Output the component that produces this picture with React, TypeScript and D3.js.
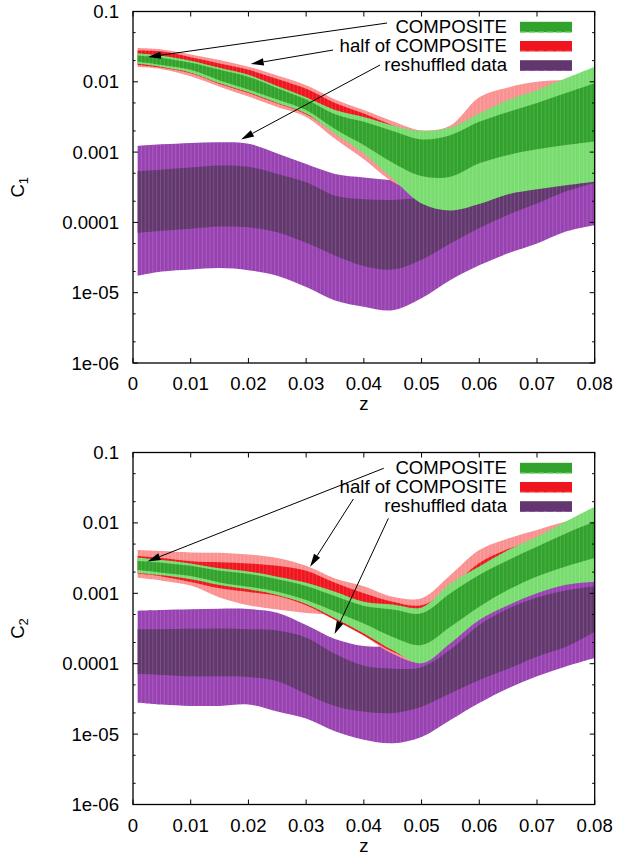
import React from "react";
import * as d3 from "d3";

// ---------- data (log10 of C) ----------
const zGrid = [0.0008, 0.005, 0.01, 0.015, 0.02, 0.025, 0.03, 0.035, 0.04, 0.045, 0.05, 0.055, 0.06, 0.065, 0.07, 0.075, 0.08];

// C1 panel
const c1CompOuterHi = [-1.595, -1.63, -1.70, -1.80, -1.90, -2.06, -2.22, -2.40, -2.50, -2.62, -2.70, -2.65, -2.45, -2.26, -2.12, -1.95, -1.785];
const c1CompInnerHi = [-1.625, -1.66, -1.73, -1.83, -1.93, -2.09, -2.25, -2.46, -2.57, -2.70, -2.82, -2.76, -2.57, -2.43, -2.30, -2.16, -2.02];
const c1CompInnerLo = [-1.715, -1.76, -1.83, -1.98, -2.11, -2.25, -2.40, -2.67, -2.90, -3.15, -3.34, -3.35, -3.16, -3.04, -2.96, -2.90, -2.85];
const c1CompOuterLo = [-1.745, -1.79, -1.87, -2.02, -2.15, -2.30, -2.45, -2.74, -3.02, -3.38, -3.73, -3.83, -3.74, -3.60, -3.53, -3.47, -3.42];

const c1HalfOuterHi = [-1.52, -1.54, -1.61, -1.69, -1.785, -1.91, -2.05, -2.25, -2.40, -2.56, -2.69, -2.62, -2.22, -2.08, -2.00, -1.97, -1.95];
const c1HalfInnerHi = [-1.555, -1.57, -1.65, -1.74, -1.83, -1.96, -2.10, -2.30, -2.45, -2.62, -2.78, -2.72, -2.50, -2.38, -2.28, -2.18, -2.08];
const c1HalfInnerLo = [-1.76, -1.80, -1.88, -2.03, -2.16, -2.31, -2.46, -2.72, -2.98, -3.22, -3.40, -3.35, -3.05, -2.95, -2.88, -2.82, -2.76];
const c1HalfOuterLo = [-1.79, -1.82, -1.92, -2.07, -2.21, -2.36, -2.50, -2.81, -3.10, -3.42, -3.58, -3.55, -3.40, -3.30, -3.22, -3.16, -3.10];

const c1ReshOuterHi = [-2.913, -2.89, -2.87, -2.86, -2.88, -3.02, -3.17, -3.31, -3.36, -3.40, -3.45, -3.35, -3.10, -2.90, -2.70, -2.50, -2.35];
const c1ReshInnerHi = [-3.27, -3.25, -3.22, -3.19, -3.21, -3.31, -3.43, -3.62, -3.67, -3.68, -3.65, -3.60, -3.50, -3.30, -3.10, -2.95, -2.80];
const c1ReshInnerLo = [-4.15, -4.12, -4.09, -4.06, -4.07, -4.14, -4.29, -4.47, -4.62, -4.67, -4.53, -4.30, -4.08, -3.89, -3.73, -3.56, -3.44];
const c1ReshOuterLo = [-4.76, -4.70, -4.67, -4.65, -4.68, -4.76, -4.92, -5.11, -5.20, -5.25, -5.08, -4.82, -4.61, -4.44, -4.30, -4.13, -4.04];

// C2 panel
const c2CompOuterHi = [-2.49, -2.527, -2.575, -2.645, -2.69, -2.764, -2.849, -2.977, -3.12, -3.16, -3.20, -2.86, -2.62, -2.385, -2.195, -1.98, -1.77];
const c2CompInnerHi = [-2.54, -2.565, -2.61, -2.68, -2.725, -2.80, -2.896, -3.04, -3.18, -3.23, -3.285, -3.0, -2.74, -2.53, -2.34, -2.15, -1.98];
const c2CompInnerLo = [-2.67, -2.707, -2.755, -2.845, -2.906, -2.977, -3.095, -3.26, -3.43, -3.62, -3.735, -3.475, -3.19, -2.95, -2.76, -2.62, -2.50];
const c2CompOuterLo = [-2.71, -2.745, -2.80, -2.882, -2.944, -3.024, -3.152, -3.355, -3.57, -3.81, -3.995, -3.71, -3.38, -3.17, -3.0, -2.88, -2.835];

const c2HalfOuterHi = [-2.385, -2.40, -2.42, -2.425, -2.45, -2.50, -2.61, -2.79, -2.90, -3.05, -3.07, -2.74, -2.385, -2.22, -2.10, -1.98, -1.90];
const c2HalfInnerHi = [-2.47, -2.50, -2.545, -2.56, -2.575, -2.61, -2.68, -2.85, -3.00, -3.12, -3.17, -2.92, -2.57, -2.37, -2.26, -2.14, -2.05];
const c2HalfInnerLo = [-2.72, -2.76, -2.84, -2.93, -2.98, -3.04, -3.17, -3.38, -3.60, -3.83, -3.95, -3.55, -3.25, -3.05, -2.90, -2.78, -2.70];
const c2HalfOuterLo = [-2.78, -2.82, -2.89, -3.06, -3.17, -3.23, -3.28, -3.33, -3.60, -3.86, -3.98, -3.65, -3.35, -3.15, -2.98, -2.87, -2.80];

const c2ReshOuterHi = [-3.247, -3.237, -3.228, -3.218, -3.223, -3.275, -3.45, -3.65, -3.75, -3.76, -3.80, -3.60, -3.35, -3.13, -2.97, -2.86, -2.80];
const c2ReshInnerHi = [-3.51, -3.51, -3.505, -3.50, -3.51, -3.53, -3.63, -3.86, -4.03, -4.07, -4.05, -3.80, -3.45, -3.22, -3.06, -2.96, -2.90];
const c2ReshInnerLo = [-4.146, -4.16, -4.18, -4.18, -4.19, -4.25, -4.43, -4.60, -4.68, -4.70, -4.61, -4.42, -4.23, -4.07, -3.90, -3.76, -3.545];
const c2ReshOuterLo = [-4.553, -4.58, -4.60, -4.60, -4.58, -4.68, -4.78, -4.96, -5.08, -5.13, -5.04, -4.80, -4.56, -4.35, -4.18, -4.04, -3.92];

const xTickValues = [0, 0.01, 0.02, 0.03, 0.04, 0.05, 0.06, 0.07, 0.08];
const xTickLabels = ["0", "0.01", "0.02", "0.03", "0.04", "0.05", "0.06", "0.07", "0.08"];
const yTickValues = [1e-1, 1e-2, 1e-3, 1e-4, 1e-5, 1e-6];
const yTickLabels = ["0.1", "0.01", "0.001", "0.0001", "1e-05", "1e-06"];
const yMinorMantissas = [2, 5];

const legendLabels = ["COMPOSITE", "half of COMPOSITE", "reshuffled data"];

// arrows: [z, log10 C] from label to band
const c1Arrows = [
  { from: [0.04403, -1.164], to: [0.0026, -1.647] },
  { from: [0.03467, -1.548], to: [0.0204, -1.747] },
  { from: [0.04281, -1.761], to: [0.01872, -2.821] },
];
const c2Arrows = [
  { from: [0.04345, -1.224], to: [0.00251, -2.548] },
  { from: [0.03819, -1.66], to: [0.03068, -2.622] },
  { from: [0.04425, -1.935], to: [0.03493, -3.578] },
];

// ---------- styling ----------
const COL = {
  compDark: "#31a22b",
  compLight: "#78dc6e",
  halfDark: "#f0141e",
  halfLight: "#fa9191",
  reshDark: "#62376e",
  reshLight: "#9842b2",
};
const FONT = "'Liberation Sans', Arial, sans-serif";
const FS = 18.6;
const X0 = 133;
const X1 = 594.7;

type Band = { lo: number[]; hi: number[]; fill: string };

function Panel({ id, top, bottom, bands, arrows, sub }: { id: string; top: number; bottom: number; bands: Band[]; arrows: typeof c1Arrows; sub: string }) {
  const x = d3.scaleLinear().domain([0, 0.08]).range([X0, X1]);
  const y = d3.scaleLog().domain([1e-6, 1e-1]).range([bottom, top]);
  const stripeZ = d3.range(0, 121).map((k) => zGrid[0] + (k * (0.08 - zGrid[0])) / 120);

  const areaOf = (b: Band) =>
    d3
      .area<number>()
      .x((d) => x(d))
      .y0((_, i) => y(Math.pow(10, b.lo[i])))
      .y1((_, i) => y(Math.pow(10, b.hi[i])))
      .curve(d3.curveCatmullRom.alpha(0.5))(zGrid) as string;

  const minor: number[] = [];
  yTickValues.slice(1).forEach((v) => yMinorMantissas.forEach((m) => minor.push(v * m)));

  const legendX = 507;
  const swX = 520;
  const swW = 52;
  const legendBase = [top + 21.3, top + 40.5, top + 59.7];
  const legendCols = [
    [COL.compDark, COL.compLight],
    [COL.halfDark, COL.halfLight],
    [COL.reshDark, COL.reshLight],
  ];

  return (
    <g>
      <defs>
        <clipPath id={`${id}-plot`}>
          <rect x={X0} y={top} width={X1 - X0} height={bottom - top} />
        </clipPath>
        {bands.map((b, i) => (
          <clipPath id={`${id}-b${i}`} key={i}>
            <path d={areaOf(b)} />
          </clipPath>
        ))}
      </defs>
      <g clipPath={`url(#${id}-plot)`}>
        {bands.map((b, i) => (
          <g key={i}>
            <path d={areaOf(b)} fill={b.fill} />
            <g clipPath={`url(#${id}-b${i})`}>
              {stripeZ.map((z, k) => (
                <line key={k} x1={x(z)} x2={x(z)} y1={top} y2={bottom} stroke="#ffffff" strokeOpacity={0.22} strokeWidth={0.7} />
              ))}
            </g>
          </g>
        ))}
      </g>

      {/* arrows */}
      {arrows.map((a, i) => {
        const x1 = x(a.from[0]);
        const y1 = y(Math.pow(10, a.from[1]));
        const x2 = x(a.to[0]);
        const y2 = y(Math.pow(10, a.to[1]));
        const ang = Math.atan2(y2 - y1, x2 - x1);
        const L = 13;
        const Wh = 3.6;
        const bx = x2 - L * Math.cos(ang);
        const by = y2 - L * Math.sin(ang);
        const px = -Math.sin(ang) * Wh;
        const py = Math.cos(ang) * Wh;
        return (
          <g key={i}>
            <line x1={x1} y1={y1} x2={bx} y2={by} stroke="#000" strokeWidth={1} />
            <polygon points={`${x2},${y2} ${bx + px},${by + py} ${bx - px},${by - py}`} fill="#000" />
          </g>
        );
      })}

      {/* legend */}
      {legendLabels.map((t, i) => (
        <g key={t}>
          <text x={legendX} y={legendBase[i]} textAnchor="end" fontFamily={FONT} fontSize={FS} fill="#000">
            {t}
          </text>
          <rect x={swX} y={legendBase[i] - 11} width={swW} height={10.5} fill={legendCols[i][0]} />
          <line x1={swX} x2={swX + swW} y1={legendBase[i] - 0.7} y2={legendBase[i] - 0.7} stroke={legendCols[i][1]} strokeWidth={1.2} strokeDasharray="6,3" />
        </g>
      ))}

      {/* border */}
      <rect x={X0} y={top} width={X1 - X0} height={bottom - top} fill="none" stroke="#000" strokeWidth={1.3} />

      {/* y ticks */}
      {yTickValues.map((v, i) => (
        <g key={`y${i}`}>
          <line x1={X0} x2={X0 + 5} y1={y(v)} y2={y(v)} stroke="#000" strokeWidth={1} />
          <line x1={X1} x2={X1 - 5} y1={y(v)} y2={y(v)} stroke="#000" strokeWidth={1} />
          <text x={119} y={y(v)} dy="0.35em" textAnchor="end" fontFamily={FONT} fontSize={FS} fill="#000">
            {yTickLabels[i]}
          </text>
        </g>
      ))}
      {minor.map((v, i) => (
        <g key={`m${i}`}>
          <line x1={X0} x2={X0 + 2.6} y1={y(v)} y2={y(v)} stroke="#000" strokeWidth={1} />
          <line x1={X1} x2={X1 - 2.6} y1={y(v)} y2={y(v)} stroke="#000" strokeWidth={1} />
        </g>
      ))}
      {/* x ticks */}
      {xTickValues.map((v, i) => (
        <g key={`x${i}`}>
          <line x1={x(v)} x2={x(v)} y1={bottom} y2={bottom - 5} stroke="#000" strokeWidth={1} />
          <line x1={x(v)} x2={x(v)} y1={top} y2={top + 5} stroke="#000" strokeWidth={1} />
          <text x={x(v)} y={bottom + 27} textAnchor="middle" fontFamily={FONT} fontSize={FS} fill="#000">
            {xTickLabels[i]}
          </text>
        </g>
      ))}

      {/* axis labels */}
      <text x={(X0 + X1) / 2} y={bottom + 47} textAnchor="middle" fontFamily={FONT} fontSize={FS} fill="#000">
        z
      </text>
      <text transform={`translate(23.5, ${(top + bottom) / 2}) rotate(-90)`} textAnchor="middle" fontFamily={FONT} fontSize={FS} fill="#000">
        C
        <tspan fontSize={13} dy={4}>
          {sub}
        </tspan>
      </text>
    </g>
  );
}

export default function App() {
  const c1Bands: Band[] = [
    { lo: c1ReshOuterLo, hi: c1ReshOuterHi, fill: COL.reshLight },
    { lo: c1ReshInnerLo, hi: c1ReshInnerHi, fill: COL.reshDark },
    { lo: c1HalfOuterLo, hi: c1HalfOuterHi, fill: COL.halfLight },
    { lo: c1HalfInnerLo, hi: c1HalfInnerHi, fill: COL.halfDark },
    { lo: c1CompOuterLo, hi: c1CompOuterHi, fill: COL.compLight },
    { lo: c1CompInnerLo, hi: c1CompInnerHi, fill: COL.compDark },
  ];
  const c2Bands: Band[] = [
    { lo: c2ReshOuterLo, hi: c2ReshOuterHi, fill: COL.reshLight },
    { lo: c2ReshInnerLo, hi: c2ReshInnerHi, fill: COL.reshDark },
    { lo: c2HalfOuterLo, hi: c2HalfOuterHi, fill: COL.halfLight },
    { lo: c2HalfInnerLo, hi: c2HalfInnerHi, fill: COL.halfDark },
    { lo: c2CompOuterLo, hi: c2CompOuterHi, fill: COL.compLight },
    { lo: c2CompInnerLo, hi: c2CompInnerHi, fill: COL.compDark },
  ];
  return (
    <svg width={618} height={860} style={{ position: "absolute", left: 0, top: 0, background: "#fff" }}>
      <rect x={0} y={0} width={618} height={860} fill="#fff" />
      <Panel id="p1" top={11.5} bottom={363} bands={c1Bands} arrows={c1Arrows} sub="1" />
      <Panel id="p2" top={452.5} bottom={804.5} bands={c2Bands} arrows={c2Arrows} sub="2" />
    </svg>
  );
}
